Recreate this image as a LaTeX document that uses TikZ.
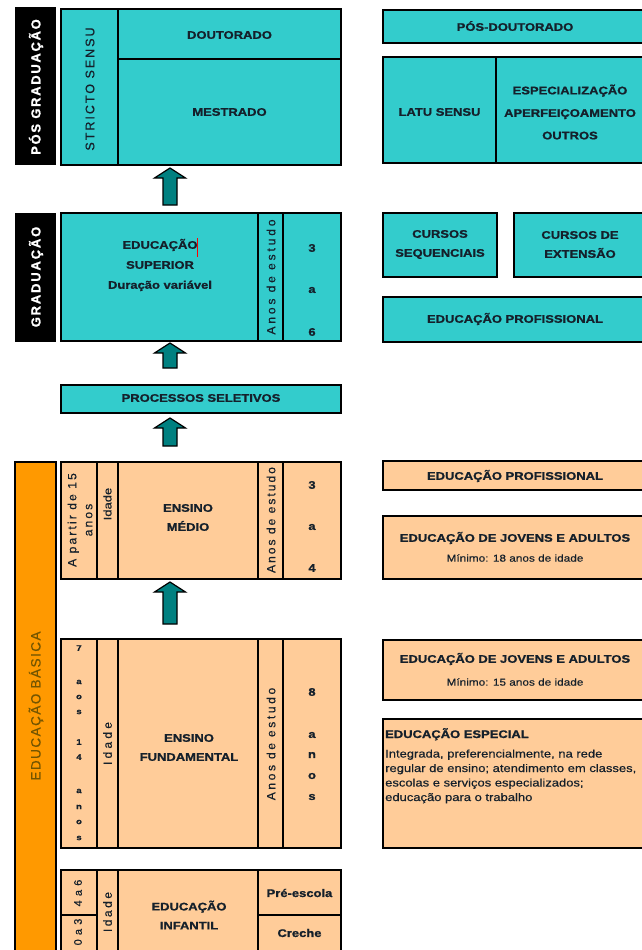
\documentclass[tikz,border=0pt]{standalone}
\usepackage{fontspec}
\setmainfont{Liberation Sans}[FakeStretch=1.18, UprightFeatures={FakeBold=0.4}, BoldFeatures={FakeBold=1.2}]
\newfontfamily\rotf{Liberation Sans}[UprightFeatures={FakeBold=0.5}, BoldFeatures={FakeBold=1}]
\definecolor{tealbox}{HTML}{33CCCC}
\definecolor{peach}{HTML}{FFCC99}
\definecolor{orng}{HTML}{FF9900}
\definecolor{arrowc}{HTML}{008080}
\definecolor{txt}{HTML}{15202B}
\definecolor{olivetxt}{HTML}{735500}
\newcommand{\rtxt}[2]{{\rotf\addfontfeatures{LetterSpace=#1}#2}}
\newcommand{\blockarr}[3]{\draw[barrow] (#1,#2) -- (#1+15.5,#2+10) -- (#1+7,#2+10) -- (#1+7,#3) -- (#1-7,#3) -- (#1-7,#2+10) -- (#1-15.5,#2+10) -- cycle;}
\tikzset{
  tbox/.style={draw=black, line width=2.2pt, fill=tealbox},
  pbox/.style={draw=black, line width=2.2pt, fill=peach},
  divl/.style={draw=black, line width=1.6pt},
  barrow/.style={fill=arrowc, draw=black, line width=1.2pt, line join=miter},
  lbl/.style={font=\fontsize{11}{19}\selectfont\bfseries, text=txt, align=center, inner sep=0pt},
  sml/.style={font=\fontsize{10}{14}\selectfont, text=txt, align=center, inner sep=0pt},
  rlbl/.style={font=\fontsize{12}{15}\selectfont, text=txt, align=center, inner sep=0pt, rotate=90},
  wlbl/.style={font=\fontsize{13}{15}\selectfont\bfseries, text=white, inner sep=0pt, rotate=90},
  stk/.style={font=\fontsize{8}{10}\selectfont\bfseries, text=txt, inner sep=0pt},
}
\begin{document}
\begin{tikzpicture}[x=1pt,y=-1pt]
\useasboundingbox (0,0) rectangle (642,950);
\clip (0,0) rectangle (642,950);
\fill[white] (0,0) rectangle (642,950);

% ---------- side labels ----------
\fill[black] (15,7) rectangle (56,165);
\fill[black] (15,213) rectangle (56,342);
\draw[fill=orng, draw=black, line width=1.2pt] (15,462) rectangle (56,962);
\node[wlbl] (lpos) at (36,87) {\rtxt{13}{PÓS GRADUAÇÃO}};
\node[wlbl] (lgrad) at (36,277) {\rtxt{14}{GRADUAÇÃO}};
\node[rlbl, font=\fontsize{13.5}{15}\selectfont, text=olivetxt] (lbas) at (36,706) {\rtxt{11}{EDUCAÇÃO BÁSICA}};

% ---------- pós-graduação ----------
\draw[tbox] (61,9) rectangle (341,165);
\draw[divl] (118,9) -- (118,165);
\draw[divl] (118,59) -- (341,59);
\node[rlbl, font=\fontsize{12.5}{15}\selectfont] (stricto) at (90,89) {\rtxt{16}{STRICTO SENSU}};
\node[lbl] (dout) at (229.5,35) {DOUTORADO};
\node[lbl] (mest) at (229.5,112) {MESTRADO};

\draw[tbox] (383,10) rectangle (648,43);
\node[lbl] (posdout) at (515,26) {PÓS-DOUTORADO};
\draw[tbox] (383,57) rectangle (648,163);
\draw[divl] (496,57) -- (496,163);
\node[lbl] (latu) at (439.5,112) {LATU SENSU};
\node[lbl, font=\fontsize{11}{22.5}\selectfont\bfseries] (espec) at (570,112) {ESPECIALIZAÇÃO\\APERFEIÇOAMENTO\\OUTROS};

\blockarr{170}{168}{205}

% ---------- graduação ----------
\draw[tbox] (61,213) rectangle (341,341);
\draw[divl] (258,213) -- (258,341);
\draw[divl] (283,213) -- (283,341);
\node[lbl, font=\fontsize{11}{20}\selectfont\bfseries] (edsup) at (160,265) {EDUCAÇÃO\\SUPERIOR\\Duração variável};
\draw[red, line width=1pt] (197.5,238) -- (197.5,257);
\node[rlbl] (anos1) at (271,277) {\rtxt{24}{Anos de estudo}};
\node[lbl] (g3) at (312,248) {3};
\node[lbl] (ga) at (312,290) {a};
\node[lbl] (g6) at (312,332) {6};

\draw[tbox] (383,213) rectangle (497,277);
\node[lbl] (cseq) at (440,244.5) {CURSOS\\SEQUENCIAIS};
\draw[tbox] (514,213) rectangle (648,277);
\node[lbl] (cext) at (580,244.5) {CURSOS DE\\EXTENSÃO};
\draw[tbox] (383,297) rectangle (648,342);
\node[lbl] (eprof1) at (515,319) {EDUCAÇÃO PROFISSIONAL};

\blockarr{170}{343}{368}

\draw[tbox] (61,385) rectangle (341,413);
\node[lbl] (proc) at (201,398) {PROCESSOS SELETIVOS};

\blockarr{170}{418}{446}

% ---------- ensino médio ----------
\draw[pbox] (61,462) rectangle (341,579);
\foreach \xx in {97,118,258,283} \draw[divl] (\xx,462) -- (\xx,579);
\node[rlbl, font=\fontsize{12}{16}\selectfont] (apartir) at (80,520) {\rtxt{18}{A partir de 15}\\\rtxt{18}{anos}};
\node[rlbl, font=\fontsize{11}{15}\selectfont] (idade1) at (107.5,504) {Idade};
\node[lbl] (medio) at (188,517.5) {ENSINO\\MÉDIO};
\node[rlbl] (anos2) at (271,520) {\rtxt{17}{Anos de estudo}};
\node[lbl] (m3) at (312,485) {3};
\node[lbl] (ma) at (312,527) {a};
\node[lbl] (m4) at (312,568) {4};

\draw[pbox] (383,461) rectangle (648,490);
\node[lbl] (eprof2) at (515,476) {EDUCAÇÃO PROFISSIONAL};
\draw[pbox] (383,516) rectangle (648,579);
\node[lbl] (eja18) at (515,538) {EDUCAÇÃO DE JOVENS E ADULTOS};
\node[sml] (min18) at (515,558) {Mínimo: 18 anos de idade};

\blockarr{170}{582}{624}

% ---------- ensino fundamental ----------
\draw[pbox] (61,639) rectangle (341,848);
\foreach \xx in {97,118,258,283} \draw[divl] (\xx,639) -- (\xx,848);
\foreach \c/\yy [count=\i] in {7/648,a/682,o/697,s/712,1/742,4/757,a/791,n/807,o/822,s/838}
  \node[stk] (fl\i) at (79,\yy) {\c};
\node[rlbl] (idade2) at (107.5,743.5) {\rtxt{27}{Idade}};
\node[lbl] (fund) at (189,747.5) {ENSINO\\FUNDAMENTAL};
\node[rlbl] (anos3) at (271,744) {\rtxt{22}{Anos de estudo}};
\foreach \c/\yy [count=\i] in {8/692,a/735,n/755,o/776,s/797}
  \node[lbl] (fr\i) at (312,\yy) {\c};

\draw[pbox] (383,640) rectangle (648,700);
\node[lbl] (eja15) at (515,659) {EDUCAÇÃO DE JOVENS E ADULTOS};
\node[sml] (min15) at (515,682) {Mínimo: 15 anos de idade};

\draw[pbox] (383,719) rectangle (648,848);
\node[sml, font=\fontsize{11}{14.5}\selectfont, align=left, anchor=north west] (espc) at (385,728)
  {{\bfseries EDUCAÇÃO ESPECIAL}\\[5pt]
   Integrada, preferencialmente, na rede\\
   regular de ensino; atendimento em classes,\\
   escolas e serviços especializados;\\
   educação para o trabalho};

% ---------- educação infantil ----------
\draw[pbox] (61,870) rectangle (341,962);
\foreach \xx in {97,118,258} \draw[divl] (\xx,870) -- (\xx,962);
\draw[divl] (61,915) -- (97,915);
\draw[divl] (258,915) -- (341,915);
\node[rlbl, font=\fontsize{11}{15}\selectfont] (i46) at (78,893) {\rtxt{10}{4 a 6}};
\node[rlbl, font=\fontsize{11}{15}\selectfont] (i03) at (78,932) {\rtxt{10}{0 a 3}};
\node[rlbl] (idade3) at (107.5,912) {\rtxt{21}{Idade}};
\node[lbl] (infantil) at (189,915) {EDUCAÇÃO\\INFANTIL};
\node[lbl] (pre) at (299.5,893) {Pré-escola};
\node[lbl] (creche) at (299.5,933) {Creche};
\end{tikzpicture}
\end{document}
